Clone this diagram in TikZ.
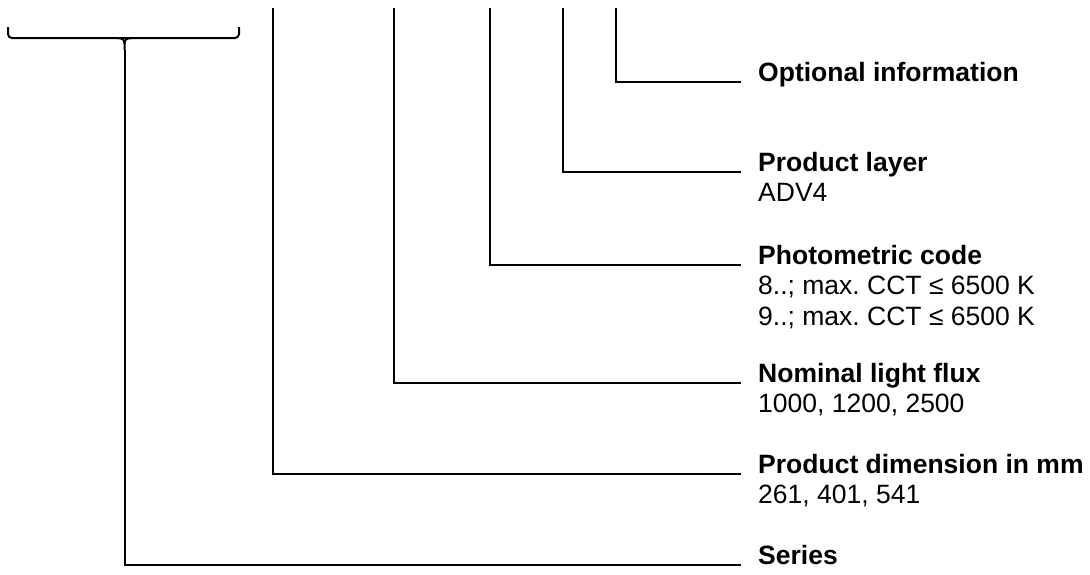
\documentclass[tikz,border=0pt]{standalone}
\usepackage{fontspec}
\setmainfont{Liberation Sans}
\frenchspacing

\tikzset{
  head/.style={anchor=base west, inner sep=0pt, font=\fontsize{26.5}{31}\selectfont\bfseries},
  info/.style={anchor=base west, inner sep=0pt, font=\fontsize{26.5}{31}\selectfont},
  lead/.style={line width=2pt},
}

\begin{document}
\begin{tikzpicture}[x=1pt, y=-1pt]
  \useasboundingbox (0,0) rectangle (1090,574);

  % brace over the series digits
  \draw[lead, rounded corners=4pt] (8,27) |- (239,38) -- (239,27);
  \coordinate (brace tip) at (124.5,50);
  \draw[lead] (117,38) .. controls (123,38) and (124.5,40) .. (124.5,44) -- (brace tip);
  \draw[lead] (132,38) .. controls (126,38) and (124.5,40) .. (124.5,44);

  \coordinate (dim top) at (273,8);
  \coordinate (flux top) at (394,8);
  \coordinate (photo top) at (490,8);
  \coordinate (layer top) at (563,8);
  \coordinate (opt top) at (616,8);

  \node[head] (opt) at (758,81) {Optional information};

  \node[head] (layer) at (758,171) {Product layer};
  \node[info] (layer1) at ([yshift=-30.5]layer.base west) {ADV4};

  \node[head] (photo) at (758,264) {Photometric code};
  \node[info] (photo1) at ([yshift=-30.5]photo.base west) {8..; max. CCT ≤ 6500 K};
  \node[info] (photo2) at ([yshift=-30.5]photo1.base west) {9..; max. CCT ≤ 6500 K};

  \node[head] (flux) at (758,382) {Nominal light flux};
  \node[info] (flux1) at ([yshift=-30.5]flux.base west) {1000, 1200, 2500};

  \node[head] (dim) at (758,473) {Product dimension in mm};
  \node[info] (dim1) at ([yshift=-30.5]dim.base west) {261, 401, 541};

  \node[head] (series) at (758,564) {Series};

  \draw[lead] (opt top) |- ([shift={(-17,1)}]opt.base west);
  \draw[lead] (layer top) |- ([shift={(-17,1)}]layer.base west);
  \draw[lead] (photo top) |- ([shift={(-17,1)}]photo.base west);
  \draw[lead] (flux top) |- ([shift={(-17,1)}]flux.base west);
  \draw[lead] (dim top) |- ([shift={(-17,1)}]dim.base west);
  \draw[lead] (brace tip) |- ([shift={(-17,1)}]series.base west);

\end{tikzpicture}
\end{document}
